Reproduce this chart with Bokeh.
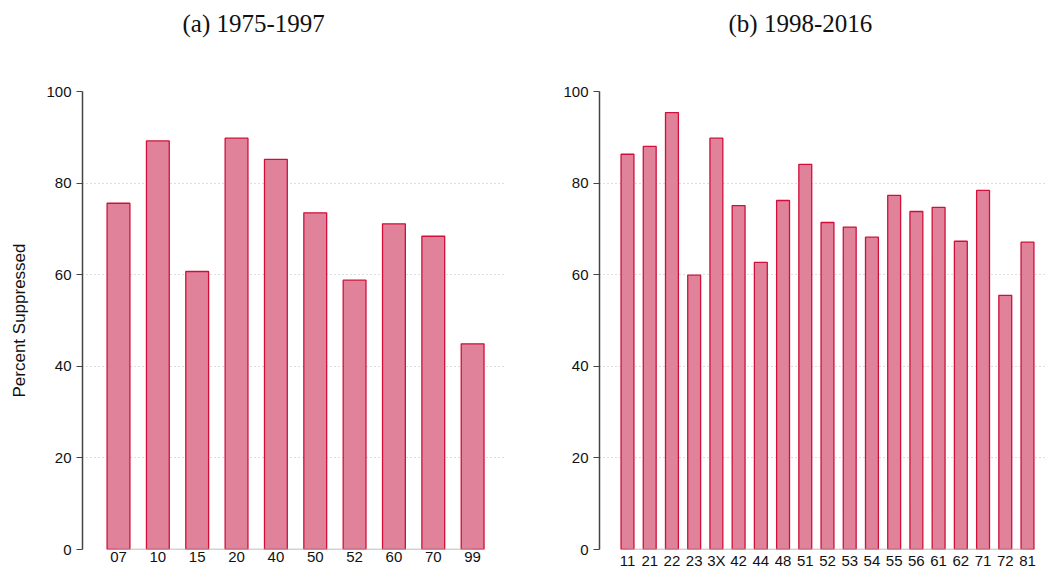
from bokeh.plotting import figure
from bokeh.layouts import row
from bokeh.models import Range1d, FixedTicker, Title
from bokeh.embed import file_html
from bokeh.resources import INLINE

# ---- data ----
cats_a = ["07", "10", "15", "20", "40", "50", "52", "60", "70", "99"]
vals_a = [75.6, 89.2, 60.7, 89.8, 85.2, 73.5, 58.8, 71.1, 68.4, 44.9]

cats_b = ["11", "21", "22", "23", "3X", "42", "44", "48", "51", "52",
          "53", "54", "55", "56", "61", "62", "71", "72", "81"]
vals_b = [86.3, 88.0, 95.4, 59.9, 89.8, 75.1, 62.7, 76.2, 84.1, 71.4,
          70.4, 68.2, 77.3, 73.8, 74.7, 67.3, 78.4, 55.5, 67.1]

y_ticks = [0, 20, 40, 60, 80, 100]
titles = ["(a) 1975-1997", "(b) 1998-2016"]
y_label = "Percent Suppressed"

FILL = "#E0829A"
EDGE = "#D0103A"
SANS = "Liberation Sans"
SERIF = "Liberation Serif"
H = 571


def panel(cats, vals, title, width, mbl, mbr, pad_l, pad_r, title_offset, ylabel):
    xs = list(range(len(cats)))
    p = figure(width=width, height=H, output_backend="svg", toolbar_location=None,
               x_range=Range1d(xs[0] - pad_l, xs[-1] + pad_r), y_range=Range1d(0, 100),
               min_border_left=mbl, min_border_right=mbr, min_border_top=0,
               min_border_bottom=0)
    # spacer between title and plot frame (closest to the frame)
    p.add_layout(Title(text=" ", text_font_size="1px", standoff=45), "above")
    p.add_layout(Title(text=title, align="left", offset=title_offset,
                       text_font=SERIF, text_font_size="25px", text_font_style="normal",
                       text_color="#111111", standoff=14), "above")
    p.outline_line_color = None
    p.background_fill_color = "white"
    p.border_fill_color = "white"

    p.vbar(x=xs, top=vals, width=0.58, fill_color=FILL, line_color=EDGE, line_width=1.3)
    p.line(x=[xs[0], xs[-1]], y=[0, 0], line_color="#a8a8a8", line_width=1.5)

    p.xgrid.visible = False
    p.ygrid.grid_line_color = "#bdbdbd"
    p.ygrid.grid_line_dash = "1 3"
    p.ygrid.grid_line_width = 1
    p.ygrid.ticker = FixedTicker(ticks=y_ticks)

    xa = p.xaxis[0]
    xa.ticker = FixedTicker(ticks=xs)
    xa.major_label_overrides = {x: c for x, c in zip(xs, cats)}
    xa.axis_line_color = None
    xa.major_tick_line_color = None
    xa.minor_tick_line_color = None
    xa.major_tick_out = 0
    xa.major_tick_in = 0
    xa.major_label_standoff = 2
    xa.axis_label_standoff = 0
    xa.major_label_text_font = SANS
    xa.major_label_text_font_size = "15px"
    xa.major_label_text_color = "#111111"

    ya = p.yaxis[0]
    ya.ticker = FixedTicker(ticks=y_ticks)
    ya.axis_line_color = "#444444"
    ya.axis_line_width = 1.5
    ya.major_tick_line_color = "#444444"
    ya.major_tick_line_width = 1.2
    ya.major_tick_out = 6
    ya.major_tick_in = 0
    ya.minor_tick_line_color = None
    ya.major_label_standoff = 5
    ya.major_label_text_font = SANS
    ya.major_label_text_font_size = "15px"
    ya.major_label_text_color = "#111111"
    if ylabel:
        ya.axis_label = ylabel
        ya.axis_label_text_font = SANS
        ya.axis_label_text_font_size = "17px"
        ya.axis_label_text_font_style = "normal"
        ya.axis_label_text_color = "#111111"
        ya.axis_label_standoff = 14
    return p


p1 = panel(cats_a, vals_a, titles[0], 528, 82, 24, 0.915, 0.81, 100, y_label)
p2 = panel(cats_b, vals_b, titles[1], 521, 71, 2, 1.26, 0.9, 129, None)

layout = row(p1, p2, spacing=0)
open("out.html", "w").write(file_html(layout, INLINE))
